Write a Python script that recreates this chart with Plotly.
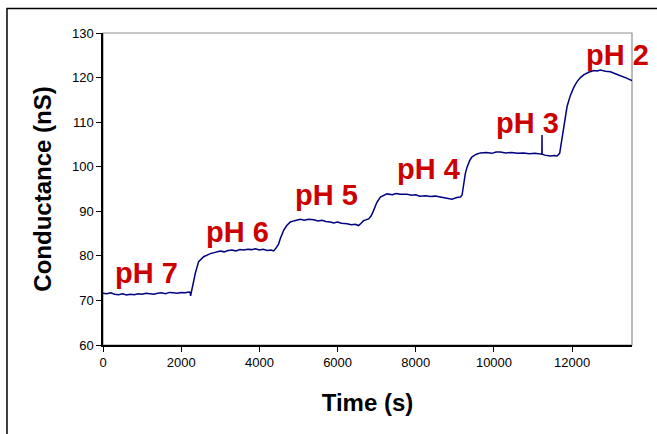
import plotly.graph_objects as go

# Time (s) and conductance (nS)
time_s = [0, 100, 200, 300, 400, 500, 600, 700, 800, 900, 1000, 1100, 1200, 1300, 1400,
          1500, 1600, 1700, 1800, 1900, 2000, 2100, 2200, 2230, 2240, 2300, 2361, 2446,
          2574, 2745, 2900, 3000, 3100, 3200, 3300, 3400, 3500, 3600, 3700, 3800, 3900,
          4000, 4100, 4200, 4300, 4364, 4430, 4493, 4535, 4620, 4700, 4791, 4900, 5047,
          5150, 5250, 5388, 5500, 5600, 5700, 5815, 5900, 6000, 6100, 6241, 6350, 6450,
          6539, 6600, 6666, 6795, 6860, 6922, 7000, 7093, 7180, 7265, 7400, 7500, 7600,
          7776, 7900, 8000, 8100, 8250, 8372, 8500, 8628, 8750, 8850, 8927, 9050, 9140,
          9183, 9225, 9268, 9311, 9380, 9439, 9550, 9652, 9800, 9950, 10050, 10163, 10300,
          10450, 10600, 10760, 10900, 11050, 11187, 11225, 11228, 11232, 11300, 11442,
          11550, 11613, 11680, 11741, 11782, 11826, 11869, 11954, 12040, 12125, 12210,
          12294, 12420, 12550, 12640, 12721, 12850, 12977, 13100, 13233, 13360, 13489, 13530]
conductance_nS = [71.6, 71.5, 71.7, 71.4, 71.3, 71.5, 71.2, 71.4, 71.3, 71.5, 71.4, 71.6, 71.5,
                  71.4, 71.6, 71.7, 71.5, 71.8, 71.7, 71.6, 71.8, 71.7, 71.9, 71.8, 71.0, 73.8,
                  76.1, 78.7, 79.8, 80.5, 80.9, 81.1, 80.9, 81.2, 81.3, 81.1, 81.4, 81.3, 81.5,
                  81.4, 81.6, 81.3, 81.5, 81.2, 81.3, 81.1, 81.8, 82.7, 83.9, 85.7, 86.8, 87.6,
                  87.9, 88.2, 88.0, 88.2, 88.1, 87.8, 88.0, 87.7, 87.6, 87.4, 87.6, 87.3, 87.2,
                  87.0, 87.1, 86.8, 87.3, 87.9, 88.3, 89.0, 90.2, 91.9, 93.2, 93.6, 93.9, 93.7,
                  94.0, 93.8, 93.8, 93.6, 93.7, 93.4, 93.5, 93.3, 93.4, 93.2, 93.0, 92.9, 92.7,
                  93.1, 93.2, 93.6, 96.1, 98.5, 99.9, 101.4, 102.2, 102.8, 103.1, 103.2, 103.0,
                  103.3, 103.3, 103.1, 103.2, 103.0, 103.1, 102.9, 103.0, 102.9, 102.8, 107.1,
                  102.8, 102.6, 102.4, 102.5, 102.4, 103.0, 106.5, 108.8, 112.0, 113.5, 116.0,
                  117.8, 119.1, 120.0, 120.6, 121.2, 121.6, 121.5, 121.7, 121.4, 121.3, 120.8,
                  120.4, 120.0, 119.5, 119.3]

ph_labels = ["pH 7", "pH 6", "pH 5", "pH 4", "pH 3", "pH 2"]
ph_label_x = [1120, 3448, 5707, 8334, 10866, 13148]
ph_label_y = [76.1, 85.3, 93.6, 99.4, 109.7, 125.0]

x_ticks = [0, 2000, 4000, 6000, 8000, 10000, 12000]
y_ticks = [60, 70, 80, 90, 100, 110, 120, 130]

FONT = "Arial, Liberation Sans, sans-serif"

fig = go.Figure()
fig.add_trace(go.Scatter(x=time_s, y=conductance_nS, mode="lines",
                         line=dict(color="#000080", width=1.5), showlegend=False,
                         hoverinfo="skip"))

for t, x, y in zip(ph_labels, ph_label_x, ph_label_y):
    fig.add_annotation(x=x, y=y, text="<b>%s</b>" % t, showarrow=False,
                       font=dict(family=FONT, size=29, color="#CC0000"),
                       xanchor="center", yanchor="middle")

# plot-area border (grey) and outer chart frame (black)
fig.add_shape(type="rect", xref="paper", yref="paper", x0=0, x1=1, y0=0, y1=1,
              line=dict(color="#909090", width=1.2), layer="below")
fig.add_shape(type="rect", xref="paper", yref="paper", x0=-0.1815, x1=1.2, y0=-0.5,
              y1=1.0784, line=dict(color="black", width=1.5), layer="below")

fig.update_layout(
    width=657, height=434,
    margin=dict(l=103, r=25, t=33, b=89),
    paper_bgcolor="white", plot_bgcolor="white",
    font=dict(family=FONT, size=13, color="black"),
    xaxis=dict(range=[0, 13530], tickvals=x_ticks, ticktext=[str(v) for v in x_ticks],
               showgrid=False, zeroline=False, showline=True, linecolor="black",
               linewidth=1.5, ticks="outside", ticklen=5, tickcolor="black",
               tickfont=dict(size=13),
               title=dict(text="<b>Time (s)</b>", font=dict(size=24), standoff=25)),
    yaxis=dict(range=[60, 130], tickvals=y_ticks, ticktext=[str(v) for v in y_ticks],
               showgrid=False, zeroline=False, showline=True, linecolor="black",
               linewidth=1.5, ticks="outside", ticklen=5, tickcolor="black",
               tickfont=dict(size=13),
               title=dict(text="<b>Conductance (nS)</b>", font=dict(size=24), standoff=14)),
)

fig.write_html("out.html", config={"displayModeBar": False},
               post_script="document.body.style.margin='0';document.body.style.overflow='hidden';")
